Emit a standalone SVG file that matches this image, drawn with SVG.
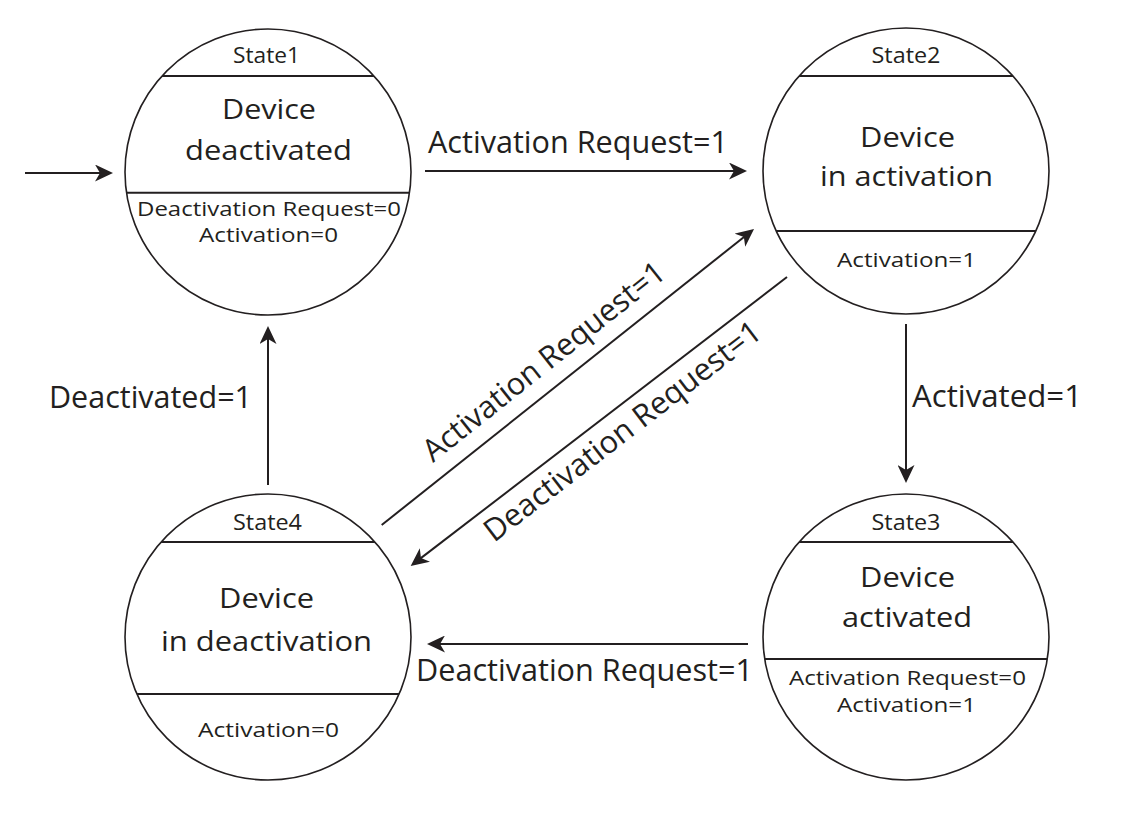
<svg xmlns="http://www.w3.org/2000/svg" width="1131" height="814" viewBox="0 0 1131 814">
<style>
text{font-family:"Open Sans","Noto Sans","Liberation Sans",sans-serif;fill:#231f20;lengthAdjust:spacingAndGlyphs}
.t{font-size:21px;text-anchor:middle}
.m{font-size:27px;text-anchor:middle}
.s{font-size:20px;text-anchor:middle}
.e{font-size:31px}
.c{fill:none;stroke:#231f20;stroke-width:1.6}
.d{stroke:#231f20;stroke-width:2}
.k{fill:none;stroke:#231f20;stroke-width:2}
</style>
<defs>
<marker id="ah" markerUnits="userSpaceOnUse" viewBox="0 0 18 17" refX="8" refY="8.5" markerWidth="18" markerHeight="17" orient="auto">
<path d="M0,0 L18,8.5 L0,17 L5,8.5 Z" fill="#231f20"/>
</marker>
</defs>
<rect width="1131" height="814" fill="#fff"/>
<g id="state1">
<circle class="c" cx="268" cy="172" r="143"/>
<line class="d" x1="162" y1="76" x2="374" y2="76"/>
<line class="d" x1="126.5" y1="192.7" x2="409.5" y2="192.7"/>
<text class="t" x="266.5" y="63" textLength="67" lengthAdjust="spacingAndGlyphs">State1</text>
<text class="m" x="269" y="119" textLength="94" lengthAdjust="spacingAndGlyphs">Device</text>
<text class="m" x="268.5" y="160" textLength="167" lengthAdjust="spacingAndGlyphs">deactivated</text>
<text class="s" x="269" y="216" textLength="264" lengthAdjust="spacingAndGlyphs">Deactivation Request=0</text>
<text class="s" x="268.5" y="242" textLength="139" lengthAdjust="spacingAndGlyphs">Activation=0</text>
</g>
<g id="state2">
<circle class="c" cx="906" cy="171" r="143"/>
<line class="d" x1="799" y1="76" x2="1013" y2="76"/>
<line class="d" x1="776" y1="231" x2="1036" y2="231"/>
<text class="t" x="906" y="63" textLength="69" lengthAdjust="spacingAndGlyphs">State2</text>
<text class="m" x="907.5" y="147" textLength="95" lengthAdjust="spacingAndGlyphs">Device</text>
<text class="m" x="906.5" y="186" textLength="173" lengthAdjust="spacingAndGlyphs">in activation</text>
<text class="s" x="906.5" y="267" textLength="139" lengthAdjust="spacingAndGlyphs">Activation=1</text>
</g>
<g id="state3">
<circle class="c" cx="906" cy="637" r="143"/>
<line class="d" x1="799" y1="542" x2="1013" y2="542"/>
<line class="d" x1="764.7" y1="659" x2="1047.3" y2="659"/>
<text class="t" x="906" y="530" textLength="69" lengthAdjust="spacingAndGlyphs">State3</text>
<text class="m" x="907.5" y="587" textLength="95" lengthAdjust="spacingAndGlyphs">Device</text>
<text class="m" x="907" y="627" textLength="130" lengthAdjust="spacingAndGlyphs">activated</text>
<text class="s" x="907.5" y="685" textLength="237" lengthAdjust="spacingAndGlyphs">Activation Request=0</text>
<text class="s" x="906.5" y="712" textLength="139" lengthAdjust="spacingAndGlyphs">Activation=1</text>
</g>
<g id="state4">
<circle class="c" cx="268" cy="637" r="143"/>
<line class="d" x1="161" y1="542" x2="375" y2="542"/>
<line class="d" x1="136.9" y1="694" x2="399.1" y2="694"/>
<text class="t" x="267.5" y="530" textLength="69" lengthAdjust="spacingAndGlyphs">State4</text>
<text class="m" x="266.5" y="608" textLength="95" lengthAdjust="spacingAndGlyphs">Device</text>
<text class="m" x="266.5" y="651" textLength="211" lengthAdjust="spacingAndGlyphs">in deactivation</text>
<text class="s" x="268.5" y="737" textLength="141" lengthAdjust="spacingAndGlyphs">Activation=0</text>
</g>
<g id="connectors">
<line class="k" x1="25" y1="173" x2="103" y2="173" marker-end="url(#ah)"/>
<line class="k" x1="425" y1="171" x2="737" y2="171" marker-end="url(#ah)"/>
<line class="k" x1="381.7" y1="525" x2="746.2" y2="235.2" marker-end="url(#ah)"/>
<line class="k" x1="787" y1="277" x2="418.6" y2="559.9" marker-end="url(#ah)"/>
<line class="k" x1="268" y1="485" x2="268" y2="336" marker-end="url(#ah)"/>
<line class="k" x1="906" y1="324" x2="906" y2="473" marker-end="url(#ah)"/>
<line class="k" x1="748" y1="644" x2="437" y2="644" marker-end="url(#ah)"/>
<text class="e" x="428" y="153" textLength="300" lengthAdjust="spacingAndGlyphs">Activation Request=1</text>
<text class="e" x="49" y="408" textLength="203" lengthAdjust="spacingAndGlyphs">Deactivated=1</text>
<text class="e" x="912" y="407" textLength="170" lengthAdjust="spacingAndGlyphs">Activated=1</text>
<text class="e" x="416" y="681" textLength="337" lengthAdjust="spacingAndGlyphs">Deactivation Request=1</text>
<text class="e" transform="translate(433,463) rotate(-38.5)" textLength="300" lengthAdjust="spacingAndGlyphs">Activation Request=1</text>
<text class="e" transform="translate(494,543) rotate(-37.5)" textLength="340" lengthAdjust="spacingAndGlyphs">Deactivation Request=1</text>
</g>
</svg>
